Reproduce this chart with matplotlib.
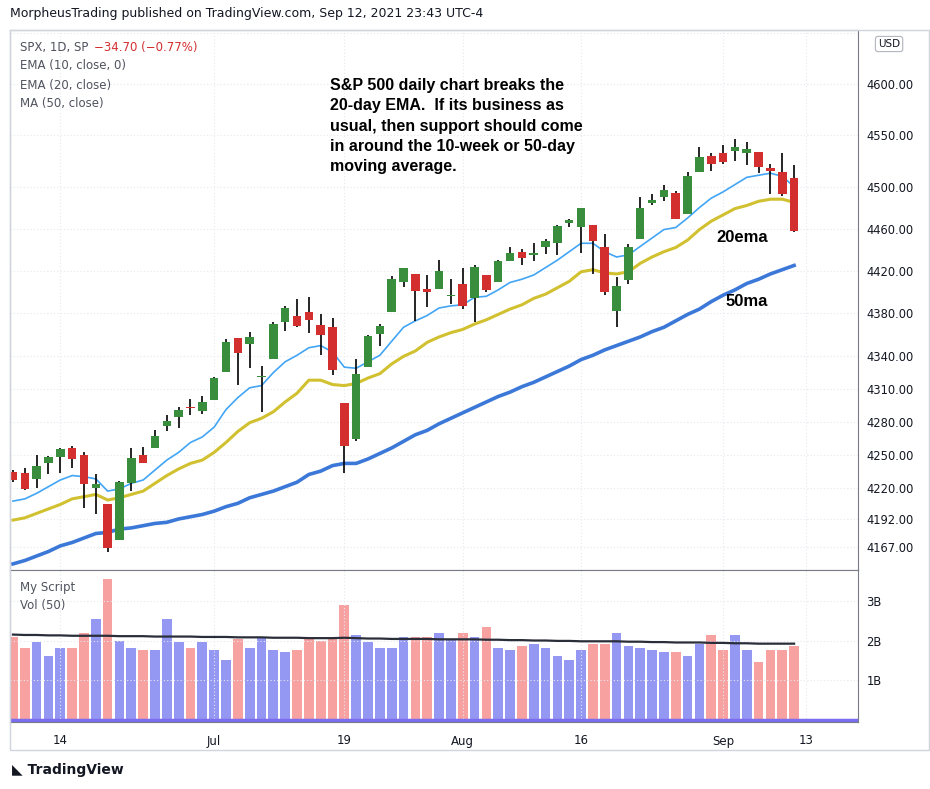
import numpy as np
import matplotlib
matplotlib.use("Agg")
import matplotlib.pyplot as plt
from matplotlib.ticker import FixedLocator, NullLocator

# ----------------------------
# Data (SPX daily, Jun 8 - Sep 10 2021)
# ----------------------------
opens = [4234,4233,4228,4242,4248,4256,4250,4220,4205,4173,4224,4250,4256,4276,4284,4293,4290,4300,4326,4357,
         4351,4321,4338,4372,4378,4381,4369,4367,4297,4264,4330,4361,4381,4409,4417,4403,4403,4396,4408,4394,
         4416,4409,4429,4438,4435,4442,4446,4465,4461,4463,4442,4382,4411,4450,4484,4490,4494,4474,4514,4530,
         4532,4534,4532,4533,4518,4514,4508]
closes = [4227,4219,4240,4248,4255,4246,4223,4223,4166,4225,4247,4242,4267,4281,4291,4292,4298,4320,4353,4343,
          4358,4321,4370,4385,4368,4374,4360,4327,4258,4324,4359,4368,4412,4423,4401,4400,4420,4396,4387,4424,
          4402,4429,4437,4432,4437,4448,4462,4468,4480,4448,4400,4406,4442,4480,4487,4497,4469,4510,4529,4522,
          4524,4538,4536,4519,4515,4493,4458]
highs = [4236,4238,4250,4249,4256,4258,4252,4232,4205,4226,4256,4257,4272,4286,4293,4301,4303,4321,4356,4357,
         4363,4331,4372,4387,4393,4395,4379,4376,4297,4338,4360,4370,4415,4423,4417,4416,4430,4412,4423,4425,
         4416,4430,4442,4441,4446,4450,4463,4469,4480,4463,4455,4414,4445,4490,4493,4502,4496,4514,4538,4532,
         4540,4546,4543,4533,4522,4532,4521]
lows = [4225,4218,4220,4232,4233,4238,4202,4196,4163,4173,4217,4242,4256,4271,4274,4286,4287,4300,4326,4314,
        4329,4289,4338,4364,4367,4362,4341,4323,4233,4262,4330,4350,4381,4405,4373,4386,4403,4389,4384,4372,
        4400,4409,4429,4425,4429,4436,4435,4461,4437,4417,4397,4367,4408,4450,4482,4486,4469,4474,4514,4515,
        4522,4525,4521,4513,4493,4491,4457]
ema10 = [4208,4210,4215,4221,4227,4231,4230,4228,4217,4219,4224,4227,4236,4245,4252,4261,4266,4275,4291,4302,
         4311,4313,4325,4335,4341,4348,4350,4344,4330,4329,4335,4341,4354,4367,4373,4378,4385,4387,4388,4395,
         4396,4402,4409,4412,4416,4423,4430,4438,4446,4446,4438,4433,4435,4443,4451,4459,4461,4470,4480,4489,
         4495,4502,4509,4511,4513,4510,4500]
ema20 = [4191,4193,4197,4201,4205,4210,4212,4214,4209,4211,4214,4217,4224,4231,4237,4242,4245,4252,4261,4271,
         4279,4283,4289,4298,4306,4318,4318,4314,4313,4315,4320,4324,4333,4340,4345,4353,4358,4362,4365,4370,
         4374,4379,4384,4388,4394,4398,4404,4410,4419,4421,4418,4417,4419,4427,4433,4438,4442,4449,4459,4467,
         4473,4479,4482,4486,4488,4488,4485]
ma50 = [4152,4155,4159,4163,4168,4171,4175,4179,4180,4183,4184,4186,4188,4189,4192,4194,4196,4199,4203,4206,
        4211,4214,4217,4221,4225,4232,4235,4240,4242,4242,4246,4251,4256,4262,4268,4272,4278,4283,4288,4293,
        4298,4303,4307,4312,4316,4321,4326,4331,4337,4341,4346,4350,4354,4358,4363,4367,4373,4379,4384,4391,
        4397,4402,4408,4412,4417,4421,4425]
volume = [2.10,1.80,1.95,1.60,1.80,1.80,2.20,2.55,3.55,2.00,1.80,1.75,1.75,2.55,1.95,1.80,1.95,1.75,1.50,2.05,
          1.80,2.10,1.75,1.70,1.75,2.05,2.00,2.05,2.90,2.15,1.95,1.80,1.80,2.10,2.10,2.10,2.20,2.05,2.20,2.10,
          2.35,1.80,1.75,1.85,1.90,1.80,1.60,1.50,1.75,1.90,1.90,2.20,1.85,1.80,1.75,1.70,1.70,1.60,1.90,2.15,
          1.75,2.15,1.75,1.45,1.75,1.75,1.85]
vol_ma = [2.15,2.14,2.14,2.13,2.13,2.12,2.12,2.12,2.12,2.11,2.11,2.11,2.10,2.10,2.10,2.10,2.09,2.09,2.09,2.08,
          2.08,2.08,2.07,2.07,2.07,2.06,2.06,2.06,2.07,2.06,2.05,2.05,2.04,2.04,2.04,2.04,2.03,2.03,2.03,2.03,
          2.02,2.02,2.01,2.01,2.00,2.00,1.99,1.99,1.98,1.98,1.98,1.98,1.97,1.97,1.96,1.96,1.95,1.95,1.95,1.94,
          1.94,1.93,1.93,1.92,1.92,1.92,1.92]

xtick_idx = [4, 17, 28, 38, 48, 60, 67]
xtick_labels = ["14", "Jul", "19", "Aug", "16", "Sep", "13"]
price_ticks = [4167, 4192, 4220, 4250, 4280, 4310, 4340, 4380, 4420, 4460, 4500, 4550, 4600, 4650]
vol_ticks = [1, 2, 3]
vol_tick_labels = ["1B", "2B", "3B"]

# ----------------------------
# Styling
# ----------------------------
UP = "#388e3c"
DOWN = "#d32f2f"
VOL_UP = "#9598f2"
VOL_DOWN = "#f7a1a1"
TXT = "#131722"
GRID = "#e6e8ee"
BORDER = "#787b86"

plt.rcParams["font.family"] = "DejaVu Sans"

fig = plt.figure(figsize=(9.30, 7.89), dpi=100)
W, H = 930.0, 789.0
L, R = 10 / W, 858 / W
ax = fig.add_axes([L, 1 - 570 / H, R - L, 540 / H])
axv = fig.add_axes([L, 1 - 722 / H, R - L, 152 / H], sharex=ax)

n = len(closes)
x = np.arange(n)
o = np.array(opens); c = np.array(closes)
up = c >= o

# candles
ax.vlines(x, lows, highs, color="black", lw=1.2, zorder=3)
body_lo = np.minimum(o, c)
body_h = np.maximum(np.abs(c - o), 0.8)
ax.bar(x, body_h, bottom=body_lo, width=0.72, color=np.where(up, UP, DOWN), zorder=4)

ax.plot(x, ema10, color="#42a5f5", lw=1.2, zorder=2)
ax.plot(x, ema20, color="#d1c130", lw=2.2, zorder=2)
ax.plot(x, ma50, color="#3b78d8", lw=2.6, zorder=2)

ax.set_yscale("log")
ax.set_ylim(4146.6, 4653)
ax.set_xlim(-0.25, 71.4)
ax.yaxis.set_major_locator(FixedLocator(price_ticks))
ax.yaxis.set_minor_locator(NullLocator())
# top label is mostly hidden behind the USD tag in the reference
ax.set_yticklabels([f"{v:.2f}" for v in price_ticks[:-1]] + [""])
ax.yaxis.tick_right()
ax.tick_params(axis="y", labelsize=8.3, colors=TXT, length=0, pad=6)
ax.tick_params(axis="x", length=0, labelbottom=False)
ax.set_xticks(xtick_idx)
ax.grid(True, color=GRID, ls=(0, (1, 2)), lw=0.8)
for s in ax.spines.values():
    s.set_color(BORDER)
    s.set_linewidth(0.8)

# volume pane
axv.bar(x, volume, width=0.82, color=np.where(up, VOL_UP, VOL_DOWN))
axv.plot(x, vol_ma, color="#2a2e39", lw=1.6)
axv.axhline(0, color="#7b6cf0", lw=2.5, zorder=5)
axv.set_ylim(-0.063, 3.785)
axv.set_yticks(vol_ticks)
axv.set_yticklabels(vol_tick_labels)
axv.yaxis.tick_right()
axv.tick_params(axis="y", labelsize=8.3, colors=TXT, length=0, pad=6)
axv.set_xticks(xtick_idx)
axv.set_xticklabels(xtick_labels)
axv.tick_params(axis="x", labelsize=8.5, colors=TXT, length=0, pad=9)
axv.grid(True, color=GRID, ls=(0, (1, 2)), lw=0.8)
for s in axv.spines.values():
    s.set_color(BORDER)
    s.set_linewidth(0.8)

# frame around the whole chart area
fig.add_artist(plt.Rectangle((L, 1 - 750 / H), (929 - 10) / W, 720 / H, transform=fig.transFigure,
                             fill=False, ec="#d1d4dc", lw=1))

# header and legends
fig.text(10 / W, 1 - 14 / H, "MorpheusTrading published on TradingView.com, Sep 12, 2021 23:43 UTC-4",
         fontsize=9, color=TXT, va="center")
fig.text(20 / W, 1 - 47 / H, "SPX, 1D, SP", fontsize=8.5, color="#50535e", va="center")
fig.text(94 / W, 1 - 47 / H, "\u221234.70 (\u22120.77%)", fontsize=8.5, color="#d32f2f", va="center")
for i, t in enumerate(["EMA (10, close, 0)", "EMA (20, close)", "MA (50, close)"]):
    fig.text(20 / W, 1 - (66 + 19 * i) / H, t, fontsize=8.5, color="#50535e", va="center")
fig.text(20 / W, 1 - 588 / H, "My Script", fontsize=8.5, color="#50535e", va="center")
fig.text(20 / W, 1 - 606 / H, "Vol (50)", fontsize=8.5, color="#50535e", va="center")

fig.text(330 / W, 1 - 126 / H,
         "S&P 500 daily chart breaks the\n20-day EMA.  If its business as\nusual, then support should come\n"
         "in around the 10-week or 50-day\nmoving average.",
         fontsize=11.5, fontweight="bold", color="black", va="center", linespacing=1.45,
         family="Liberation Sans")
fig.text(716 / W, 1 - 237 / H, "20ema", fontsize=12, fontweight="bold", va="center", family="Liberation Sans")
fig.text(726 / W, 1 - 301 / H, "50ma", fontsize=12, fontweight="bold", va="center", family="Liberation Sans")

# USD tag
fig.text(878 / W, 1 - 44 / H, "USD", fontsize=7.5, color=TXT, va="center", zorder=10,
         bbox=dict(boxstyle="round,pad=0.25", fc="white", ec="#b2b5be", lw=0.8))

fig.text(12 / W, 1 - 770 / H, "\u25e3 TradingView", fontsize=10, color=TXT, va="center", fontweight="bold")

fig.savefig("out.png", dpi=100, facecolor="white")
